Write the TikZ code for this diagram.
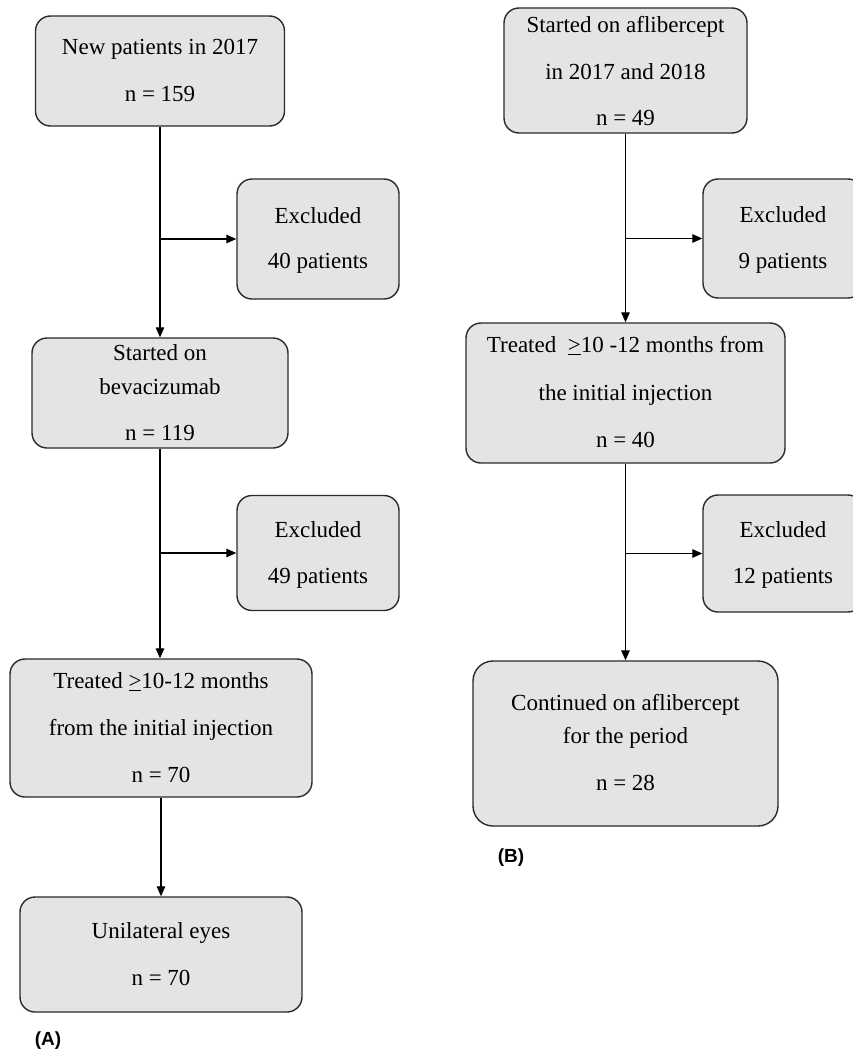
\documentclass[tikz,border=0pt]{standalone}
\usepackage{fontspec}
\setmainfont{Liberation Serif}
\newfontfamily\labfont{Liberation Sans}
\usetikzlibrary{arrows.meta}
\definecolor{boxfill}{HTML}{E4E4E4}
\definecolor{boxline}{HTML}{2A2A2A}
\begin{document}
\begin{tikzpicture}[x=1pt,y=-1pt,
  box/.style={draw=boxline, fill=boxfill, line width=1.4pt, rounded corners=15pt, inner sep=0pt},
  txt/.style={inner sep=0pt, text height=16pt, text depth=5pt, font=\fontsize{23}{28}\selectfont},
  arr/.style={line width=1.3pt, -{Triangle[length=10pt,width=8.5pt]}},
  panel/.style={inner sep=0pt, font=\labfont\bfseries\fontsize{19}{22}\selectfont}]
\clip (0,0) rectangle (853,1055);
\useasboundingbox (0,0) rectangle (853,1055);
% ---------- Panel A ----------
\node[box, minimum width=249pt, minimum height=110pt] (A1) at (160,71) {};
\node[txt] (A1a) at (160,49) {New patients in 2017};
\node[txt] (A1b) at (160,96) {n = 159};

\node[box, minimum width=162pt, minimum height=120pt] (A2) at (318,239) {};
\node[txt] (A2a) at (318,218) {Excluded};
\node[txt] (A2b) at (318,263) {40 patients};

\node[box, minimum width=256pt, minimum height=110pt] (A3) at (160,393) {};
\node[txt] (A3a) at (160,355) {Started on};
\node[txt] (A3b) at (160,389) {bevacizumab};
\node[txt] (A3c) at (160,435) {n = 119};

\node[box, minimum width=162pt, minimum height=115pt] (A4) at (318,553) {};
\node[txt] (A4a) at (318,532) {Excluded};
\node[txt] (A4b) at (318,578) {49 patients};

\node[box, minimum width=302pt, minimum height=138pt] (A5) at (161,728) {};
\node[txt] (A5a) at (161,683) {Treated \underline{>}10-12 months};
\node[txt] (A5b) at (161,730) {from the initial injection};
\node[txt] (A5c) at (161,777) {n = 70};

\node[box, minimum width=282pt, minimum height=115pt] (A6) at (161,954.5) {};
\node[txt] (A6a) at (161,933) {Unilateral eyes};
\node[txt] (A6b) at (161,980) {n = 70};

\node[panel] (PA) at (48,1041) {(A)};

\draw[arr] (A1.south) -- (A3.north);
\draw[arr] (A1.south |- A2.west) -- (A2.west);
\draw[arr] (A3.south) -- (A3.south |- A5.north);
\draw[arr] (A3.south |- A4.west) -- (A4.west);
\draw[arr] (A5.south) -- (A6.north);

% ---------- Panel B ----------
\node[box, minimum width=243pt, minimum height=125pt] (B1) at (625.5,70.5) {};
\node[txt] (B1a) at (625.5,27) {Started on aflibercept};
\node[txt] (B1b) at (625.5,74) {in 2017 and 2018};
\node[txt] (B1c) at (625.5,120) {n = 49};

\node[box, minimum width=160pt, minimum height=119pt] (B2) at (783,238.5) {};
\node[txt] (B2a) at (783,217) {Excluded};
\node[txt] (B2b) at (783,263) {9 patients};

\node[box, minimum width=319pt, minimum height=140pt] (B3) at (625.5,393) {};
\node[txt] (B3a) at (625.5,347) {Treated \ \underline{>}10 -12 months from};
\node[txt] (B3b) at (625.5,395) {the initial injection};
\node[txt] (B3c) at (625.5,442) {n = 40};

\node[box, minimum width=160pt, minimum height=117pt] (B4) at (783,553.5) {};
\node[txt] (B4a) at (783,532) {Excluded};
\node[txt] (B4b) at (783,578) {12 patients};

\node[box, rounded corners=20pt, minimum width=305pt, minimum height=165pt] (B5) at (625.5,743.5) {};
\node[txt] (B5a) at (625.5,705) {Continued on aflibercept};
\node[txt] (B5b) at (625.5,738) {for the period};
\node[txt] (B5c) at (625.5,785) {n = 28};

\node[panel] (PB) at (511,858) {(B)};

\draw[arr] (B1.south) -- (B1.south |- B3.north);
\draw[arr] (B1.south |- B2.west) -- (B2.west);
\draw[arr] (B3.south) -- (B3.south |- B5.north);
\draw[arr] (B3.south |- B4.west) -- (B4.west);
\end{tikzpicture}
\end{document}
